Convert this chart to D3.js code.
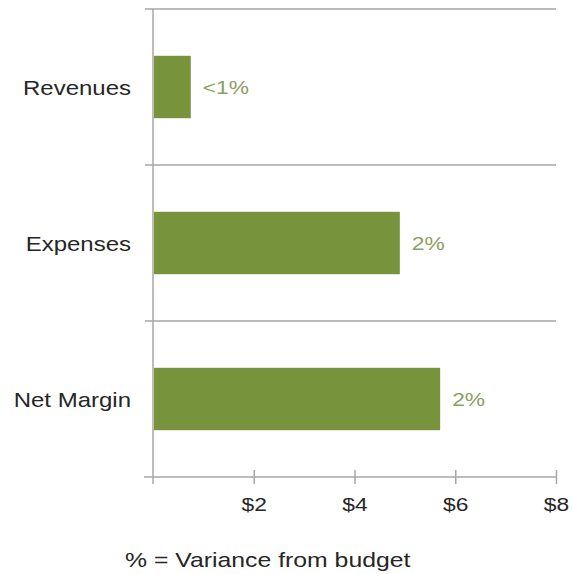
<!DOCTYPE html>
<html>
<head>
<meta charset="utf-8">
<script src="https://cdn.jsdelivr.net/npm/d3@7"></script>
<style>
  body { margin: 0; background: #fff; }
  text { font-family: "Liberation Sans", Arial, sans-serif; }
</style>
</head>
<body>
<div id="chart"></div>
<script>
// data
const categories = ["Revenues", "Expenses", "Net Margin"];
const values = [0.75, 4.9, 5.7];
const variance = ["<1%", "2%", "2%"];
const xTicks = [2, 4, 6, 8];
const footnote = "% = Variance from budget";

const W = 573, H = 574;
const plot = { left: 153, right: 556, top: 9, bottom: 477 };
const stretch = 1.2; // text in the picture is widened

const svg = d3.select("#chart").append("svg")
    .attr("width", W)
    .attr("height", H);

const x = d3.scaleLinear().domain([0, 8]).range([plot.left, plot.right]);
const y = d3.scaleBand().domain(categories)
    .range([plot.top, plot.bottom])
    .paddingInner(0.6)
    .paddingOuter(0.3);

const gridColor = "#a6a6a6";

// separators between categories (band edges)
const edges = categories.map(c => y(c) - y.step() * y.paddingOuter());
svg.selectAll("line.sep")
    .data(edges)
    .enter().append("line")
    .attr("class", "sep")
    .attr("x1", plot.left - 8).attr("x2", plot.right)
    .attr("y1", d => d).attr("y2", d => d)
    .attr("stroke", gridColor).attr("stroke-width", 1.5);

// x axis
const xAxis = svg.append("g")
    .attr("transform", `translate(0,${plot.bottom})`)
    .call(d3.axisBottom(x).tickValues(xTicks).tickSize(7).tickFormat(d => "$" + d));
xAxis.select(".domain").remove();
xAxis.selectAll(".tick line")
    .attr("y1", -7)
    .attr("stroke", gridColor).attr("stroke-width", 1.5);
xAxis.selectAll(".tick text")
    .attr("y", 0).attr("dy", null)
    .attr("transform", `translate(0,34) scale(${stretch},1)`)
    .attr("fill", "#262626")
    .style("font-size", "19px");
svg.append("line")
    .attr("x1", plot.left - 9).attr("x2", plot.right)
    .attr("y1", plot.bottom).attr("y2", plot.bottom)
    .attr("stroke", gridColor).attr("stroke-width", 1.5);

// y axis line
svg.append("line")
    .attr("x1", plot.left).attr("x2", plot.left)
    .attr("y1", plot.top).attr("y2", plot.bottom + 7)
    .attr("stroke", gridColor).attr("stroke-width", 1.5);

// bars
svg.selectAll("rect.bar")
    .data(categories)
    .enter().append("rect")
    .attr("class", "bar")
    .attr("x", x(0) + 1)
    .attr("y", d => y(d))
    .attr("width", (d, i) => x(values[i]) - x(0) - 1)
    .attr("height", y.bandwidth())
    .attr("fill", "#77933c");

// category labels
svg.selectAll("text.cat")
    .data(categories)
    .enter().append("text")
    .attr("class", "cat")
    .attr("transform", d => `translate(131,${y(d) + y.bandwidth() / 2 + 8}) scale(${stretch},1)`)
    .attr("text-anchor", "end")
    .attr("fill", "#262626")
    .style("font-size", "20px")
    .text(d => d);

// variance labels
svg.selectAll("text.var")
    .data(categories)
    .enter().append("text")
    .attr("class", "var")
    .attr("transform", (d, i) => `translate(${x(values[i]) + 12},${y(d) + y.bandwidth() / 2 + 7}) scale(${stretch},1)`)
    .attr("fill", "#8c9f5f")
    .style("font-size", "19px")
    .text((d, i) => variance[i]);

// footnote
svg.append("text")
    .attr("transform", `translate(125,567) scale(1.24,1)`)
    .attr("fill", "#262626")
    .style("font-size", "20px")
    .text(footnote);
</script>
</body>
</html>
